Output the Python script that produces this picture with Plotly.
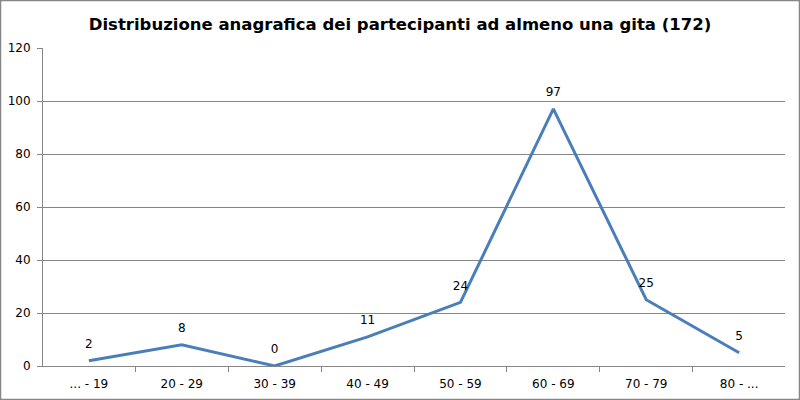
import plotly.graph_objects as go

fasce_eta = ["... - 19", "20 - 29", "30 - 39", "40 - 49", "50 - 59", "60 - 69", "70 - 79", "80 - ..."]
partecipanti = [2, 8, 0, 11, 24, 97, 25, 5]

titolo = "Distribuzione anagrafica dei partecipanti ad almeno una gita (172)"

fig = go.Figure()
fig.add_trace(go.Scatter(
    x=fasce_eta, y=partecipanti,
    mode="lines+markers+text",
    line=dict(color="#4A7EBB", width=3),
    marker=dict(size=14, opacity=0),
    text=[str(v) for v in partecipanti],
    textposition="top center",
    textfont=dict(family="DejaVu Sans", size=12, color="black"),
    cliponaxis=False,
    hoverinfo="x+y",
))

fig.update_layout(
    width=800, height=400,
    margin=dict(l=43, r=15, t=48, b=34),
    paper_bgcolor="white", plot_bgcolor="white",
    showlegend=False,
    title=dict(text="<b>" + titolo + "</b>", x=0.5, xanchor="center", y=0.94, yanchor="middle",
               font=dict(family="DejaVu Sans", size=16.5, color="black")),
    font=dict(family="DejaVu Sans", size=12, color="black"),
)
fig.update_xaxes(
    showgrid=False, showline=True, linecolor="#868686", linewidth=1,
    ticks="outside", ticklen=5, tickcolor="#868686", tickson="boundaries",
    tickfont=dict(size=12), zeroline=False, ticklabelstandoff=7, automargin=False,
)
fig.update_yaxes(
    range=[0, 120], dtick=20, showgrid=True, gridcolor="#868686", gridwidth=1,
    showline=True, linecolor="#868686", linewidth=1,
    ticks="outside", ticklen=5, tickcolor="#868686",
    tickfont=dict(size=12), zeroline=False, ticklabelstandoff=4, automargin=False,
)
fig.add_shape(type="rect", xref="paper", yref="paper",
              x0=-42.5/742, x1=1+14.5/742, y0=-33.5/318, y1=1+47.5/318,
              line=dict(color="#868686", width=1.5), fillcolor="rgba(0,0,0,0)", layer="below")

fig.write_html("out.html", config={"displayModeBar": False},
               post_script="document.body.style.margin='0';")
